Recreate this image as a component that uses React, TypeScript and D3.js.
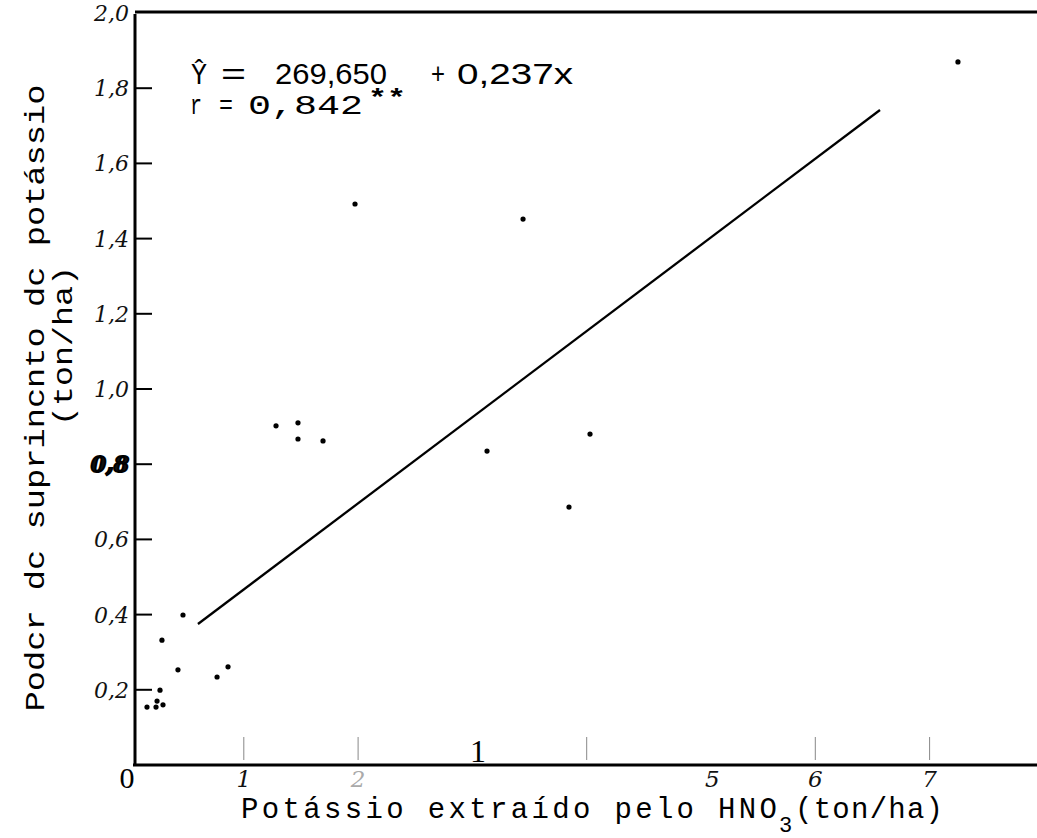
import React from "react";
import * as d3 from "d3";

// ---- data ----
const pointX = [0.468, 0.284, 0.424, 0.766, 0.862, 0.267, 0.241, 0.153, 0.232, 0.293, 1.282, 1.474, 1.474, 1.693, 1.973, 3.443, 3.128, 4.029, 3.845, 7.248];
const pointY = [0.399, 0.332, 0.253, 0.234, 0.261, 0.199, 0.170, 0.154, 0.154, 0.160, 0.902, 0.910, 0.867, 0.862, 1.492, 1.452, 0.835, 0.880, 0.686, 1.870];
const fitX = [0.599, 6.566];
const fitY = [0.375, 1.742];
const yTickValues = [0.2, 0.4, 0.6, 0.8, 1.0, 1.2, 1.4, 1.6, 1.8, 2.0];
const yTickLabels = ["0,2", "0,4", "0,6", "0,8", "1,0", "1,2", "1,4", "1,6", "1,8", "2,0"];
const xTickMarks = [1, 2, 4, 6, 7];
const xTickLabelValues = [1, 2, 5.1, 6, 7];
const xTickLabels = ["1", "2", "5", "6", "7"];
const equationParts = ["Ŷ", "=", "269,650", "+", "0,237x"];
const rParts = ["r", "=", "0,842", "**"];
const xTitleMain = "Potássio extraído pelo HNO";
const xTitleSub = "3";
const xTitleUnit = "(ton/ha)";
const yTitle1 = "Podcr dc suprincnto dc potássio";
const yTitle2 = "(ton/ha)";

export default function App() {
  const W = 1037, H = 838;
  const axisX = 135, axisY = 765, topY = 12;
  const x = d3.scaleLinear().domain([0, 8]).range([129.5, 129.5 + 8 * 114.3]);
  const y = d3.scaleLinear().domain([0, 2]).range([axisY, 13]);
  const line = d3.line<[number, number]>().x(d => x(d[0])).y(d => y(d[1]));
  const fitPts: [number, number][] = fitX.map((v, i) => [v, fitY[i]]);
  const tickFont = "'DejaVu Serif', 'Liberation Serif', serif";
  const mono = "'Liberation Mono', 'DejaVu Sans Mono', monospace";
  const sans = "'Liberation Sans', Arial, sans-serif";

  // layout of equation pieces (pixel x and widths)
  const eqX = [191, 221, 275, 431, 457];
  const eqW = [16, 25, 112, 14, 116];
  const rX = [190, 219, 248, 368];
  const rW = [12, 14, 115, 38];

  return (
    <svg width={W} height={H} style={{ position: "absolute", left: 0, top: 0, background: "#fff" }}>
      <rect x={0} y={0} width={W} height={H} fill="#fff" />
      {/* frame lines */}
      <line x1={axisX} x2={W} y1={topY} y2={topY} stroke="#000" strokeWidth={3} />
      <line x1={axisX} x2={axisX} y1={topY + 2} y2={axisY + 1} stroke="#000" strokeWidth={3} />
      <line x1={axisX - 2} x2={W} y1={axisY} y2={axisY} stroke="#000" strokeWidth={3.2} />

      {/* y ticks */}
      {yTickValues.map((v, i) => (
        <g key={"yt" + i}>
          {v < 2 && <line x1={axisX} x2={axisX + 17} y1={y(v)} y2={y(v)} stroke="#000" strokeWidth={2} />}
          <text x={129} y={y(v) + 8} textAnchor="end" fontFamily={tickFont} fontStyle="italic"
            fontWeight={v === 0.8 ? 900 : 400} fontSize={22} fill="#111"
            stroke={v === 0.8 ? "#000" : "none"} strokeWidth={v === 0.8 ? 2 : 0}>{yTickLabels[i]}</text>
        </g>
      ))}

      {/* x ticks (thin, inside plot) */}
      {xTickMarks.map((v, i) => (
        <line key={"xt" + i} x1={x(v)} x2={x(v)} y1={axisY - 28} y2={axisY - 5} stroke="#888" strokeWidth={1} />
      ))}
      {xTickLabelValues.map((v, i) => (
        <text key={"xl" + i} x={x(v)} y={axisY + 22} textAnchor="middle" fontFamily={tickFont} fontStyle="italic"
          fontSize={23} fill={i === 1 ? "#aaa" : "#111"}>{xTickLabels[i]}</text>
      ))}
      <text x={127} y={axisY + 23} textAnchor="middle" fontFamily="'Liberation Serif', serif" fontSize={30} fill="#000">0</text>
      <text x={x(3.05)} y={axisY - 3} textAnchor="middle" fontFamily="'Liberation Serif', serif" fontSize={32} fill="#000">1</text>

      {/* regression line */}
      <path d={line(fitPts) || ""} fill="none" stroke="#000" strokeWidth={2.3} />

      {/* points */}
      {pointX.map((v, i) => (
        <circle key={"p" + i} cx={x(v)} cy={y(pointY[i])} r={2.6} fill="#000" />
      ))}

      {/* equation */}
      {equationParts.map((t, i) => (
        <text key={"eq" + i} x={eqX[i]} y={84} fontFamily={i === 0 ? mono : sans} fontSize={29} fill="#000"
          textLength={eqW[i]} lengthAdjust="spacingAndGlyphs">{t}</text>
      ))}
      {rParts.map((t, i) => (
        <text key={"r" + i} x={rX[i]} y={i === 3 ? 106 : 114} fontFamily={mono} fontSize={i === 3 ? 24 : 28} fill="#000"
          fontWeight={i === 3 ? 700 : 400}
          textLength={rW[i]} lengthAdjust="spacingAndGlyphs">{t}</text>
      ))}

      {/* x title */}
      <text x={241} y={818} fontFamily={mono} fontSize={29} fill="#000" textLength={536} lengthAdjust="spacing">{xTitleMain}</text>
      <text x={779} y={832} fontFamily={mono} fontSize={22} fill="#000">{xTitleSub}</text>
      <text x={795} y={818} fontFamily={mono} fontSize={29} fill="#000" textLength={148} lengthAdjust="spacing">{xTitleUnit}</text>

      {/* y title */}
      <text transform={`translate(44, ${398}) rotate(-90)`} textAnchor="middle" fontFamily={mono} fontSize={28}
        fill="#000" textLength={627} lengthAdjust="spacingAndGlyphs">{yTitle1}</text>
      <text transform={`translate(72, ${346}) rotate(-90)`} textAnchor="middle" fontFamily={mono} fontSize={28}
        fill="#000" textLength={160} lengthAdjust="spacingAndGlyphs">{yTitle2}</text>
    </svg>
  );
}
